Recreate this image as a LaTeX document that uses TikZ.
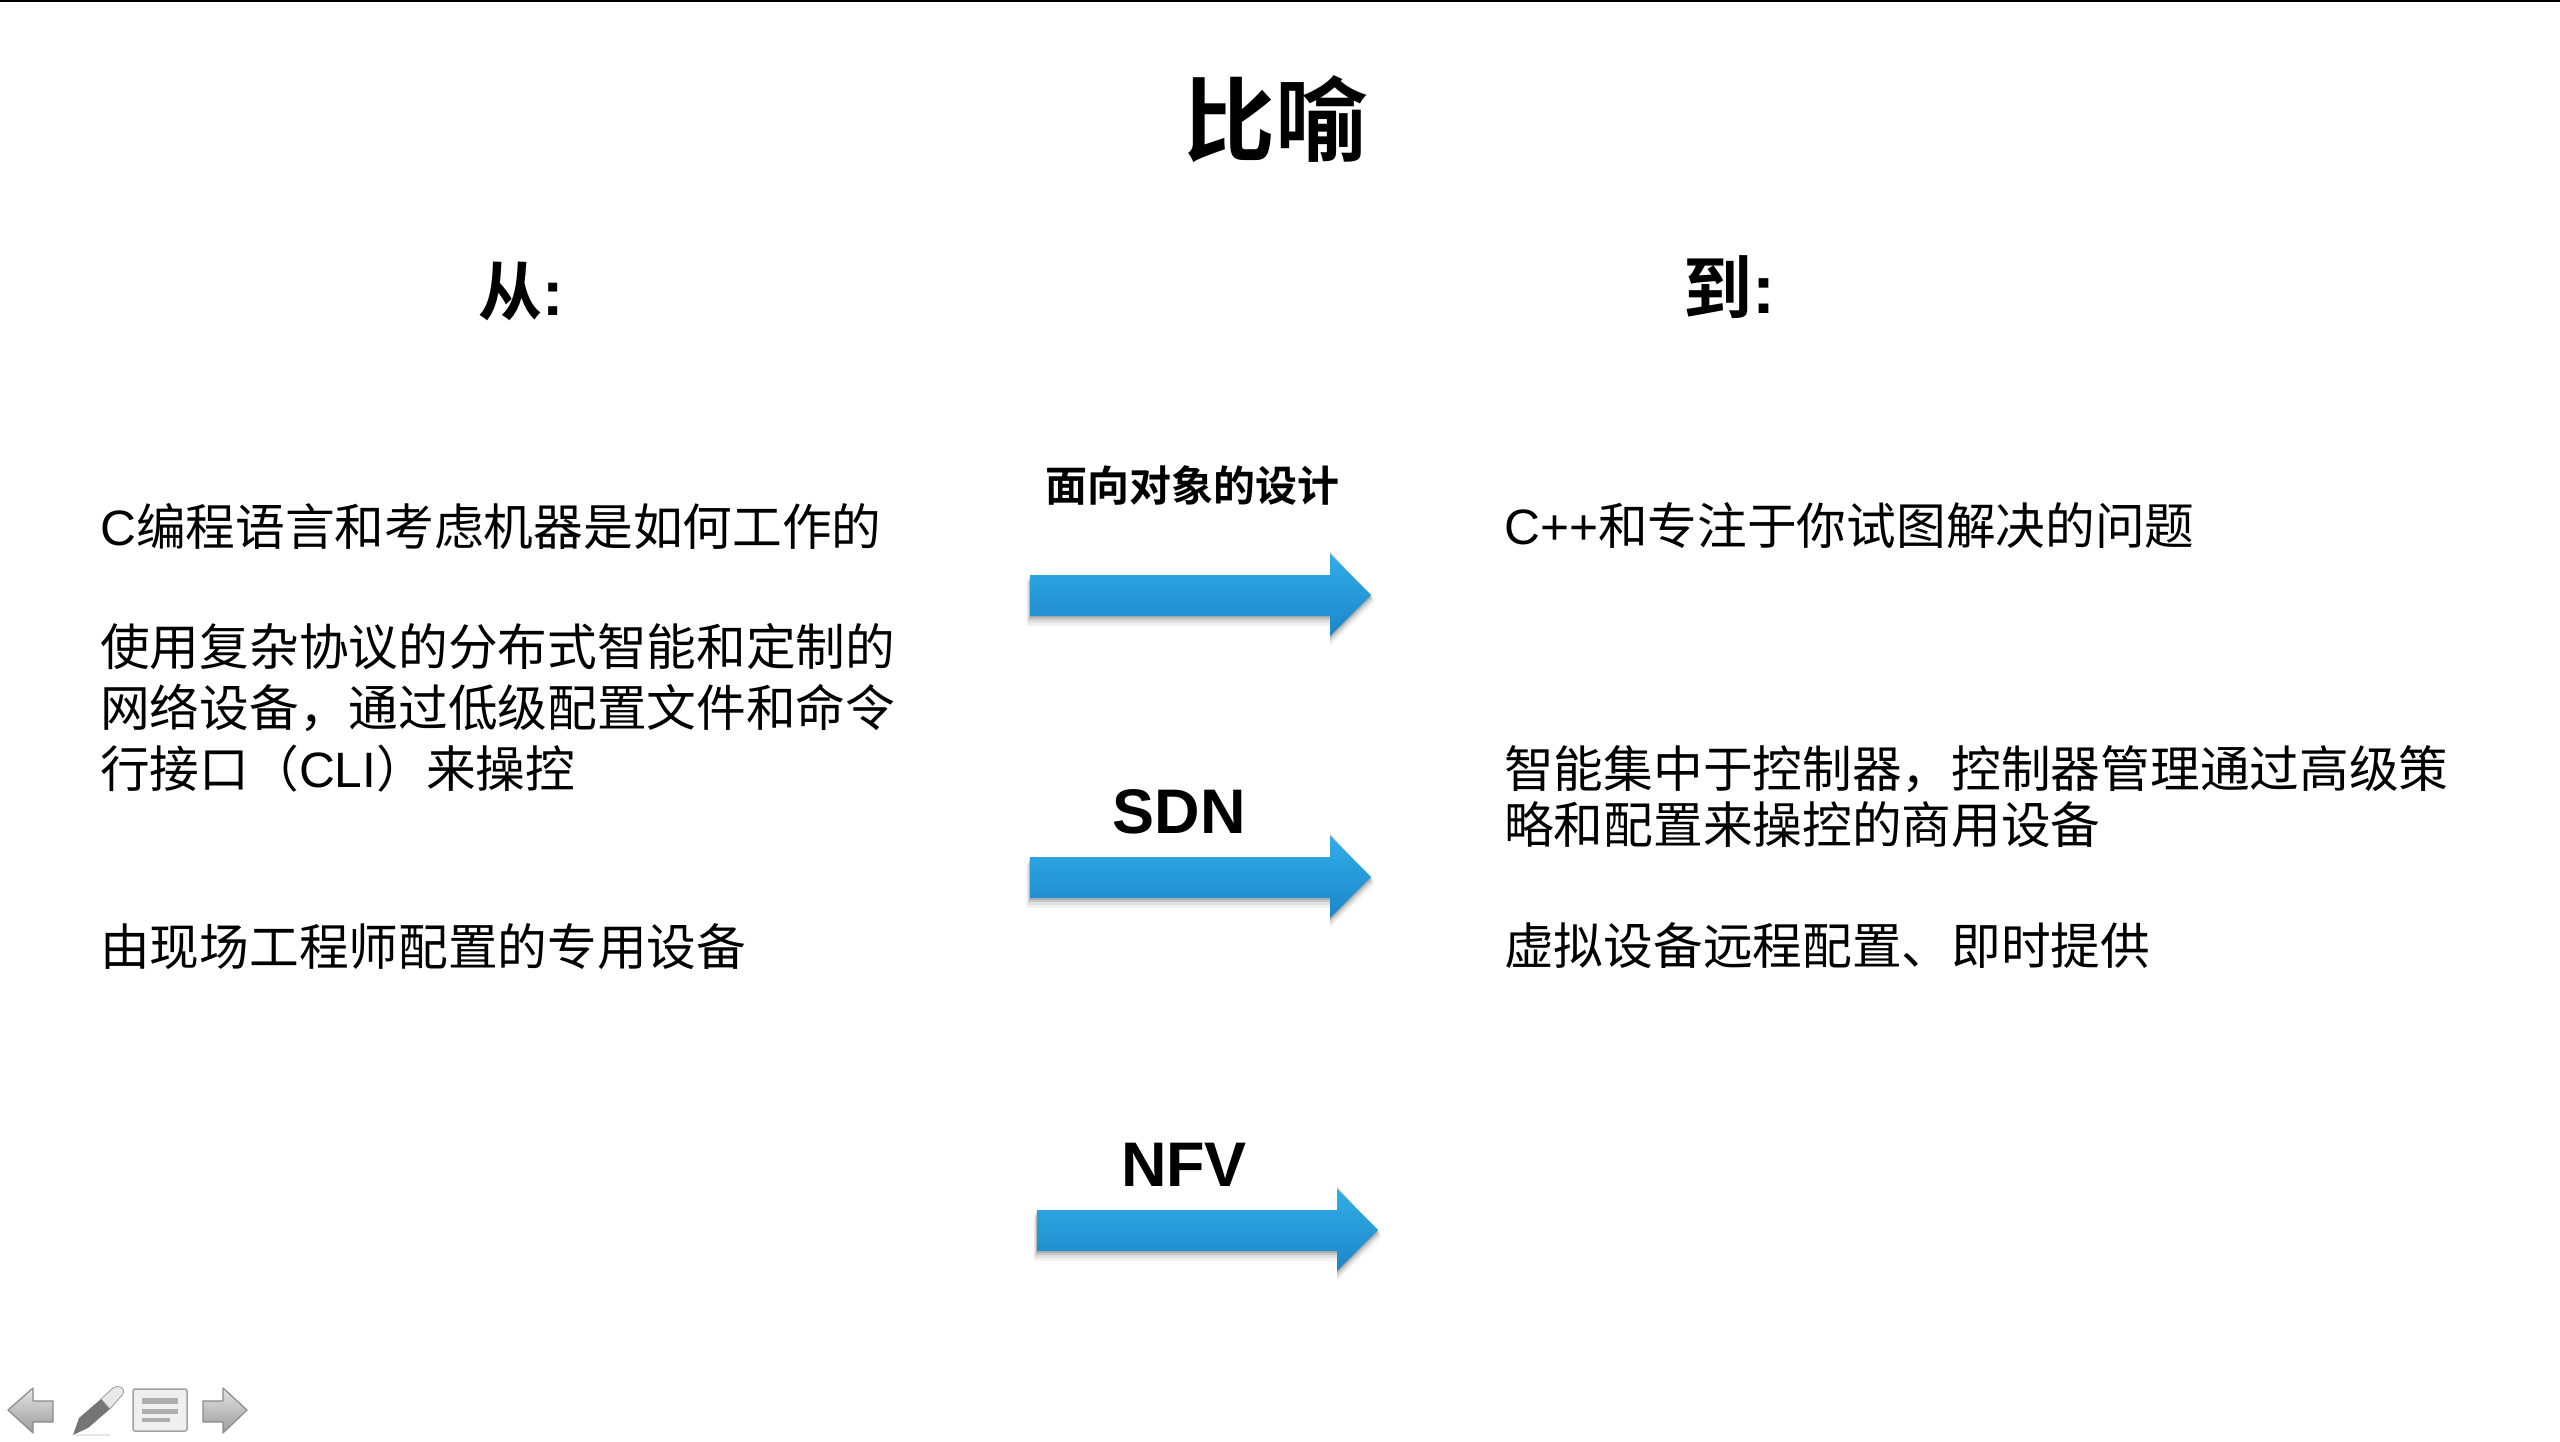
\documentclass[tikz,border=0pt]{standalone}
\usepackage{fontspec}
\setmainfont{Noto Sans CJK SC}[BoldFont={Noto Sans CJK SC Bold}]
\newfontfamily\la{Liberation Sans}
\definecolor{arrowtop}{HTML}{30AEE8}
\definecolor{arrowbot}{HTML}{1D85C8}
\definecolor{icoL}{HTML}{D8D8D8}
\definecolor{icoD}{HTML}{9A9A9A}
\definecolor{icoE}{HTML}{8A8A8A}
\tikzset{
  x=1pt,y=-1pt,
  bodytext/.style={anchor=west,align=left,inner sep=0pt,text=black,font=\fontsize{49.7}{61}\selectfont},
  bodytight/.style={anchor=west,align=left,inner sep=0pt,text=black,font=\fontsize{49.7}{56}\selectfont},
  heading/.style={inner sep=0pt,text=black,font=\bfseries\fontsize{64}{64}\selectfont},
  smallhead/.style={inner sep=0pt,text=black,font=\bfseries\fontsize{42}{42}\selectfont},
  arrowlabel/.style={inner sep=0pt,text=black,font=\la\bfseries\fontsize{63}{63}\selectfont},
  navicon/.style={draw=icoE,line width=1.2pt,top color=icoL!70!white,bottom color=icoD,line join=round},
  pics/blockarrow/.style={code={
    \foreach \o/\s in {7/0.05,5/0.07,3/0.10,1.5/0.12}{
      \fill[black,opacity=\s] (-\o/2,-20+\o) -- (300,-20+\o) -- (300,-41-\o/2) -- (341+\o/2,\o) -- (300,41+\o*1.4) -- (300,21+\o*1.4) -- (-\o/2,21+\o*1.4) -- cycle;
    }
    \shade[top color=arrowtop,bottom color=arrowbot,draw=none]
      (0,-20) -- (300,-20) -- (300,-41) -- (341,0) -- (300,41) -- (300,21) -- (0,21) -- cycle;
  }}
}
\begin{document}
\begin{tikzpicture}
\useasboundingbox (0,0) rectangle (2560,1442);
\fill[white] (0,0) rectangle (2560,1442);
\fill[black] (0,0) rectangle (2560,2);

\node[inner sep=0pt,text=black,font=\bfseries\fontsize{92}{92}\selectfont] (title) at (1275,119) {比喻};
\node[heading] (from) at (521,291) {从{\la:}};
\node[heading,font=\bfseries\fontsize{69}{69}\selectfont] (to) at (1729,287) {到{\la:}};

\node[bodytext] (l1) at (100,526) {{\la C}编程语言和考虑机器是如何工作的};
\node[bodytext] (l2) at (100,708) {使用复杂协议的分布式智能和定制的\\网络设备，通过低级配置文件和命令\\行接口（{\la CLI}）来操控};
\node[bodytext] (l3) at (100,947) {由现场工程师配置的专用设备};

\node[bodytext] (r1) at (1504,526) {{\la C++}和专注于你试图解决的问题};
\node[bodytight] (r2) at (1504,797) {智能集中于控制器，控制器管理通过高级策\\略和配置来操控的商用设备};
\node[bodytext] (r3) at (1504,946) {虚拟设备远程配置、即时提供};

\node[smallhead] (oo) at (1192,485) {面向对象的设计};
\node[arrowlabel] (sdn) at (1179,812) {SDN};
\node[arrowlabel] (nfv) at (1184,1165) {NFV};

\pic at (1030,595) {blockarrow};
\pic at (1030,877) {blockarrow};
\pic at (1037,1230) {blockarrow};

% navigation icons
\path[navicon] (8,1410) -- (33,1388) -- (33,1401) -- (53,1401) -- (53,1422) -- (33,1422) -- (33,1433) -- cycle;
\path[navicon] (247,1410) -- (223,1388) -- (223,1401) -- (203,1401) -- (203,1422) -- (223,1422) -- (223,1433) -- cycle;
\draw[icoE!80!white,line width=1.5pt,fill=icoL!40!white,rounded corners=2pt] (133,1389) rectangle (187,1431);
\fill[icoD!80!white] (142,1398) rectangle (178,1404);
\fill[icoD!80!white] (142,1409) rectangle (178,1414);
\fill[icoD!80!white] (142,1418) rectangle (170,1422);
\fill[icoD!40!white,opacity=0.6] (76,1434) -- (110,1434) -- (110,1436) -- (76,1436) -- cycle;
\fill[icoE!85!black] (73,1435) -- (79,1418) -- (101,1399) -- (110,1409) -- (88,1428) -- cycle;
\fill[icoL!60!white,draw=icoD,line width=0.8pt] (101,1399) -- (113,1388) .. controls (118,1384) and (126,1388) .. (123,1394) -- (110,1409) -- cycle;
\end{tikzpicture}
\end{document}
